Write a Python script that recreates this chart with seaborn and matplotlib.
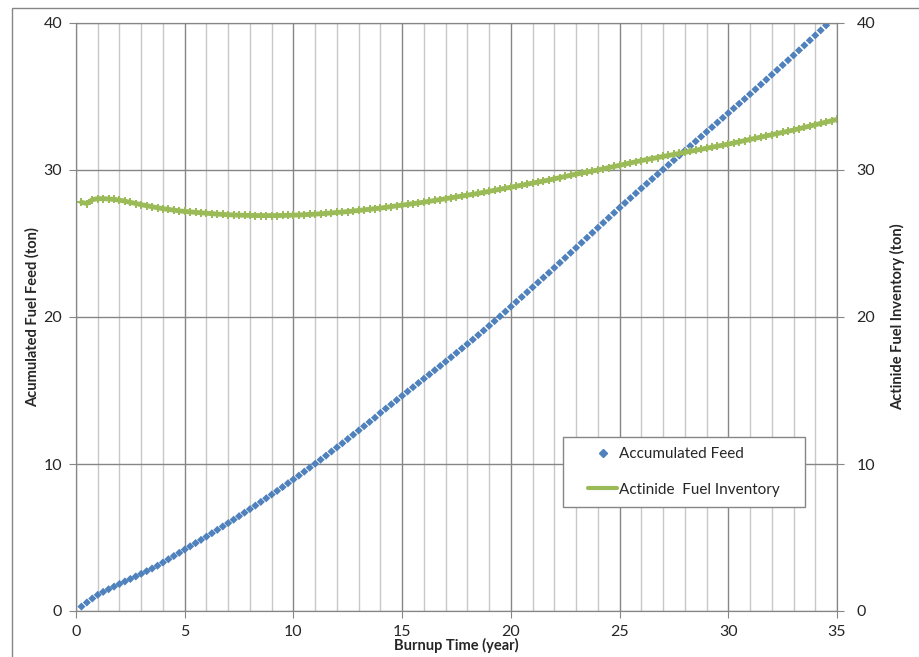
import matplotlib
matplotlib.use("Agg")
import matplotlib.pyplot as plt
import seaborn as sns
import numpy as np
from matplotlib.lines import Line2D
from matplotlib.patches import Rectangle
from matplotlib.ticker import MultipleLocator

sns.set_style("white")
plt.rcParams['font.family'] = ['Lato', 'DejaVu Sans']

# time grid: one value every quarter year
feed_years = np.arange(1, 139) * 0.25          # 0.25 .. 34.5
inventory_years = np.arange(1, 141) * 0.25     # 0.25 .. 35.0

# Accumulated feed (ton)
accumulated_feed = [
    0.30, 0.58, 0.85, 1.10, 1.30, 1.48, 1.66, 1.84,
    2.01, 2.18, 2.35, 2.53, 2.71, 2.89, 3.08, 3.30,
    3.52, 3.74, 3.96, 4.18, 4.40, 4.62, 4.84, 5.06,
    5.29, 5.52, 5.75, 5.98, 6.21, 6.45, 6.69, 6.93,
    7.17, 7.42, 7.67, 7.92, 8.17, 8.43, 8.69, 8.95,
    9.21, 9.48, 9.75, 10.02, 10.29, 10.57, 10.85, 11.13,
    11.41, 11.70, 11.99, 12.28, 12.57, 12.86, 13.15, 13.48,
    13.77, 14.06, 14.35, 14.64, 14.93, 15.22, 15.51, 15.80,
    16.09, 16.38, 16.67, 16.96, 17.26, 17.56, 17.86, 18.16,
    18.46, 18.77, 19.08, 19.40, 19.72, 20.04, 20.37, 20.70,
    21.03, 21.36, 21.69, 22.02, 22.35, 22.68, 23.01, 23.35,
    23.69, 24.03, 24.37, 24.71, 25.05, 25.39, 25.73, 26.07,
    26.41, 26.75, 27.09, 27.43, 27.76, 28.09, 28.42, 28.75,
    29.07, 29.39, 29.71, 30.03, 30.35, 30.67, 30.99, 31.31,
    31.63, 31.95, 32.27, 32.59, 32.91, 33.23, 33.55, 33.87,
    34.19, 34.51, 34.83, 35.16, 35.49, 35.82, 36.15, 36.48,
    36.81, 37.14, 37.47, 37.80, 38.14, 38.48, 38.82, 39.16,
    39.50, 39.84,
]

# Actinide fuel inventory (ton)
actinide_inventory = [
    27.80, 27.72, 27.98, 28.05, 28.05, 28.03, 28.00, 27.95,
    27.88, 27.80, 27.72, 27.64, 27.57, 27.50, 27.43, 27.37,
    27.32, 27.27, 27.22, 27.18, 27.15, 27.12, 27.09, 27.06,
    27.03, 27.00, 26.98, 26.96, 26.94, 26.93, 26.92, 26.91,
    26.90, 26.90, 26.90, 26.90, 26.90, 26.91, 26.92, 26.93,
    26.94, 26.96, 26.98, 27.00, 27.02, 27.05, 27.08, 27.11,
    27.14, 27.17, 27.21, 27.25, 27.29, 27.33, 27.37, 27.41,
    27.46, 27.51, 27.56, 27.61, 27.66, 27.71, 27.76, 27.81,
    27.87, 27.93, 27.99, 28.05, 28.11, 28.17, 28.23, 28.29,
    28.35, 28.41, 28.48, 28.55, 28.62, 28.69, 28.76, 28.83,
    28.90, 28.97, 29.04, 29.11, 29.18, 29.25, 29.32, 29.40,
    29.48, 29.56, 29.64, 29.72, 29.79, 29.86, 29.93, 30.00,
    30.08, 30.16, 30.24, 30.32, 30.40, 30.48, 30.56, 30.64,
    30.71, 30.78, 30.85, 30.92, 30.99, 31.06, 31.13, 31.20,
    31.27, 31.34, 31.41, 31.48, 31.55, 31.62, 31.69, 31.76,
    31.84, 31.92, 32.00, 32.08, 32.16, 32.24, 32.32, 32.40,
    32.48, 32.56, 32.64, 32.72, 32.81, 32.90, 32.99, 33.08,
    33.17, 33.26, 33.35, 33.44,
]

blue = '#4f81bd'
green = '#9bbb59'
gray = '#868686'
light = '#c8c8c8'

fig = plt.figure(figsize=(9.2, 6.57), dpi=100)
ax = fig.add_axes([76 / 920, 46 / 657, 761 / 920, 588 / 657])

# outer chart border
fig.add_artist(Rectangle((12.5 / 920, -0.05), 1.2, 1 - 8.3 / 657 + 0.05,
                         transform=fig.transFigure, fill=False,
                         edgecolor=gray, lw=1.0))

sns.scatterplot(x=feed_years, y=accumulated_feed, marker='D', s=17,
                color=blue, edgecolor='none', ax=ax, zorder=3)
sns.lineplot(x=inventory_years, y=actinide_inventory, color=green, lw=3.5,
             marker='P', markersize=6, markeredgewidth=0, ax=ax, zorder=4)

ax.set_xlim(0, 35)
ax.set_ylim(0, 40)
ax.xaxis.set_major_locator(MultipleLocator(5))
ax.xaxis.set_minor_locator(MultipleLocator(1))
ax.yaxis.set_major_locator(MultipleLocator(10))
ax.grid(which='minor', axis='x', color=light, lw=1.0)
ax.grid(which='major', axis='x', color=gray, lw=1.0)
ax.grid(which='major', axis='y', color=gray, lw=1.0)
ax.set_axisbelow(True)
for s in ax.spines.values():
    s.set_color(gray)
ax.tick_params(which='major', direction='out', length=5, color=gray,
               labelsize=11.5, left=True, bottom=True, pad=5)
ax.tick_params(which='minor', length=0)

ax2 = ax.twinx()
ax2.set_ylim(0, 40)
ax2.yaxis.set_major_locator(MultipleLocator(10))
for s in ax2.spines.values():
    s.set_color(gray)
ax2.tick_params(direction='out', length=5, color=gray, labelsize=11.5, right=True, pad=9)

ax.set_xlabel('Burnup Time (year)', fontsize=10.5, fontweight='bold', labelpad=-1)
ax.set_ylabel('Acumulated Fuel Feed (ton)', fontsize=10.5, fontweight='bold', labelpad=3)
ax2.set_ylabel('Actinide Fuel Inventory (ton)', fontsize=10.5, fontweight='bold', labelpad=11)

# legend box
ax2.add_patch(Rectangle((0.64, 0.177), 0.318, 0.119, transform=ax2.transAxes,
                        facecolor='white', edgecolor=gray, lw=1.0, zorder=6))
handles = [
    Line2D([], [], color=blue, marker='D', markersize=4.5, linestyle='none'),
    Line2D([], [], color=green, lw=3),
]
leg = ax2.legend(handles, ['Accumulated Feed', 'Actinide  Fuel Inventory'],
                 loc='center', bbox_to_anchor=(0.799, 0.2365), frameon=False,
                 fontsize=11, handlelength=1.9, handletextpad=0.1,
                 labelspacing=1.4, borderpad=0.2)
leg.set_zorder(7)

fig.savefig('out.png', dpi=100)
